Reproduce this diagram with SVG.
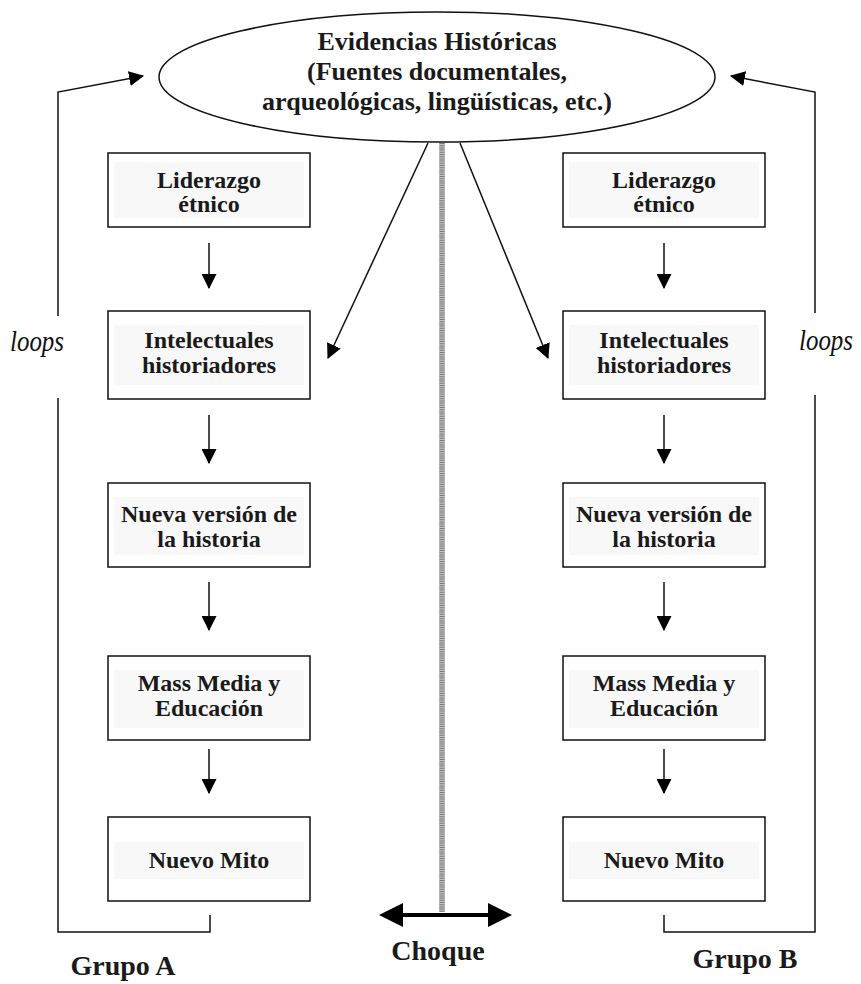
<svg xmlns="http://www.w3.org/2000/svg" width="861" height="984" viewBox="0 0 861 984">
<defs>
<style>
.box{fill:#fff;stroke:#111;stroke-width:1.5}
.hl{fill:#f8f8f8}
.t{font-family:"Liberation Serif","Times New Roman",serif;font-weight:bold;fill:#1a1a1a;text-anchor:middle}
.bt{font-size:24px}
.et{font-size:26px}
.big{font-size:28px}
.lp{font-family:"Liberation Serif","Times New Roman",serif;font-style:italic;font-size:29px;fill:#111}
.ln{fill:none;stroke:#111;stroke-width:1.5}
</style>
<marker id="ah" viewBox="0 0 14 14" refX="13" refY="7" markerWidth="15" markerHeight="15" markerUnits="userSpaceOnUse" orient="auto">
<path d="M0,0 L14,7 L0,14 Z" fill="#000"/>
</marker>
</defs>
<g id="evidencias">
<ellipse cx="437" cy="77" rx="278" ry="65" fill="#fff" stroke="#111" stroke-width="1.5"/>
<text class="t et" x="437" y="50">Evidencias Históricas</text>
<text class="t et" x="437" y="80">(Fuentes documentales,</text>
<text class="t et" x="437" y="110">arqueológicas, lingüísticas, etc.)</text>
</g>
<g id="a-liderazgo"><rect class="box" x="108" y="153" width="202" height="74"/><rect class="hl" x="114" y="162" width="190" height="56"/><text class="t bt" x="209" y="188">Liderazgo</text><text class="t bt" x="209" y="212">étnico</text></g>
<g id="a-intelectuales"><rect class="box" x="108" y="311" width="202" height="88"/><rect class="hl" x="114" y="325" width="190" height="60"/><text class="t bt" x="209" y="348">Intelectuales</text><text class="t bt" x="209" y="373">historiadores</text></g>
<g id="a-nueva"><rect class="box" x="108" y="483" width="202" height="84"/><rect class="hl" x="114" y="497" width="190" height="58"/><text class="t bt" x="209" y="522">Nueva versión de</text><text class="t bt" x="209" y="547">la historia</text></g>
<g id="a-mass"><rect class="box" x="108" y="656" width="202" height="84"/><rect class="hl" x="114" y="670" width="190" height="58"/><text class="t bt" x="209" y="691">Mass Media y</text><text class="t bt" x="209" y="716">Educación</text></g>
<g id="a-mito"><rect class="box" x="108" y="817" width="202" height="84"/><rect class="hl" x="114" y="842" width="190" height="37"/><text class="t bt" x="209" y="868">Nuevo Mito</text></g>
<g id="b-liderazgo"><rect class="box" x="563" y="153" width="202" height="74"/><rect class="hl" x="569" y="162" width="190" height="56"/><text class="t bt" x="664" y="188">Liderazgo</text><text class="t bt" x="664" y="212">étnico</text></g>
<g id="b-intelectuales"><rect class="box" x="563" y="311" width="202" height="88"/><rect class="hl" x="569" y="325" width="190" height="60"/><text class="t bt" x="664" y="348">Intelectuales</text><text class="t bt" x="664" y="373">historiadores</text></g>
<g id="b-nueva"><rect class="box" x="563" y="483" width="202" height="84"/><rect class="hl" x="569" y="497" width="190" height="58"/><text class="t bt" x="664" y="522">Nueva versión de</text><text class="t bt" x="664" y="547">la historia</text></g>
<g id="b-mass"><rect class="box" x="563" y="656" width="202" height="84"/><rect class="hl" x="569" y="670" width="190" height="58"/><text class="t bt" x="664" y="691">Mass Media y</text><text class="t bt" x="664" y="716">Educación</text></g>
<g id="b-mito"><rect class="box" x="563" y="817" width="202" height="84"/><rect class="hl" x="569" y="842" width="190" height="37"/><text class="t bt" x="664" y="868">Nuevo Mito</text></g>
<g id="connectors">
<line class="ln" x1="209" y1="243" x2="209" y2="288" marker-end="url(#ah)"/>
<line class="ln" x1="209" y1="415" x2="209" y2="463" marker-end="url(#ah)"/>
<line class="ln" x1="209" y1="582" x2="209" y2="630" marker-end="url(#ah)"/>
<line class="ln" x1="209" y1="749" x2="209" y2="793" marker-end="url(#ah)"/>
<line class="ln" x1="664" y1="243" x2="664" y2="288" marker-end="url(#ah)"/>
<line class="ln" x1="664" y1="415" x2="664" y2="463" marker-end="url(#ah)"/>
<line class="ln" x1="664" y1="582" x2="664" y2="630" marker-end="url(#ah)"/>
<line class="ln" x1="664" y1="749" x2="664" y2="793" marker-end="url(#ah)"/>
<line class="ln" x1="428" y1="143" x2="328" y2="358" marker-end="url(#ah)"/>
<line class="ln" x1="460" y1="143" x2="548" y2="358" marker-end="url(#ah)"/>
<polyline class="ln" points="58,316 58,92 143,76" marker-end="url(#ah)"/>
<polyline class="ln" points="58,398 58,932 210,932 210,915"/>
<polyline class="ln" points="815,313 815,92 731,76" marker-end="url(#ah)"/>
<polyline class="ln" points="815,395 815,932 664,932 664,915"/>
<line x1="442" y1="143" x2="442" y2="912" stroke="#c4c4c4" stroke-width="6"/>
<line x1="442" y1="143" x2="442" y2="912" stroke="#777" stroke-width="5" stroke-dasharray="1 1.2"/>
<line x1="400" y1="915" x2="491" y2="915" stroke="#000" stroke-width="4"/>
<polygon points="379,915 403,903 403,927" fill="#000"/>
<polygon points="512,915 488,903 488,927" fill="#000"/>
</g>
<text class="lp" x="10" y="351" textLength="54" lengthAdjust="spacingAndGlyphs">loops</text>
<text class="lp" x="799" y="350" textLength="54" lengthAdjust="spacingAndGlyphs">loops</text>
<text class="t big" x="123" y="975">Grupo A</text>
<text class="t big" x="745" y="968">Grupo B</text>
<text class="t big" x="438" y="960">Choque</text>
</svg>
